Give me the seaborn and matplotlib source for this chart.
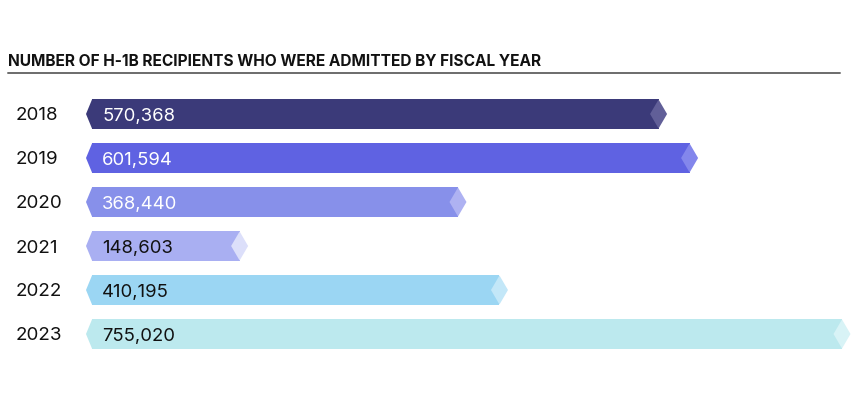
import pandas as pd
import matplotlib
matplotlib.use("Agg")
import matplotlib.pyplot as plt
import seaborn as sns
from matplotlib.patches import Polygon
from matplotlib.lines import Line2D

title = "NUMBER OF H-1B RECIPIENTS WHO WERE ADMITTED BY FISCAL YEAR"
years = ["2018", "2019", "2020", "2021", "2022", "2023"]
recipients = [570368, 601594, 368440, 148603, 410195, 755020]
bar_colors = ["#3b3a79", "#5f62e2", "#8790ea", "#a9aff2", "#9bd6f3", "#bce9ee"]
tip_colors = ["#615f98", "#8386ec", "#aeb2f2", "#dcdffa", "#c3e7f8", "#d8f3f6"]
label_colors = ["white", "white", "white", "#111111", "#111111", "#111111"]

df = pd.DataFrame({"year": years, "recipients": recipients})

sns.set_theme(style="white")
plt.rcParams["font.family"] = ["Inter", "DejaVu Sans"]

W, H = 860, 412
fig = plt.figure(figsize=(W / 100, H / 100), dpi=100)
# axes start at the arrow tip (x=86px); 6 rows of 44px starting at y=92px
ax = fig.add_axes([86 / W, (H - 356) / H, (W - 86) / W, 264 / H])

sns.barplot(data=df, y="year", x="recipients", hue="year", palette=bar_colors,
            legend=False, width=0.66, saturation=1, errorbar=None,
            orient="h", linewidth=0, ax=ax)

# pixel scale: zero at x=92px, the largest value ends at x=842px
ppx = (842 - 92) / max(recipients)
ax.set_xlim(-6 / ppx, (W - 92) / ppx)
ax.set_ylim(5.5, -0.5)

tip = 6 / ppx
hw = 8.5 / ppx
for i, p in enumerate(ax.patches[:len(years)]):
    y0 = p.get_y()
    h = p.get_height()
    v = p.get_width()
    yc = y0 + h / 2
    ax.add_patch(Polygon([(0, y0), (-tip, yc), (0, y0 + h)], closed=True,
                         facecolor=bar_colors[i], lw=0))
    ax.add_patch(Polygon([(v - hw, yc), (v, y0), (v + hw, yc), (v, y0 + h)],
                         closed=True, facecolor=tip_colors[i], lw=0))
    ax.text(10 / ppx, yc, f"{v:,.0f}", va="center_baseline", ha="left",
            fontsize=13.3, color=label_colors[i])

ax.set_xlabel("")
ax.set_ylabel("")
ax.set_xticks([])
ax.tick_params(axis="y", length=0, pad=70 * 72 / 100, labelsize=13.5,
               labelcolor="#111111")
for lab in ax.get_yticklabels():
    lab.set_horizontalalignment("left")
sns.despine(ax=ax, left=True, bottom=True)

t = fig.text(8 / W, 1 - 65.7 / H, title, fontsize=10.3, fontweight="bold",
             va="baseline", ha="left", color="#111111")
# stretch the title to the reference width (~535px)
fig.canvas.draw()
tw = t.get_window_extent().width
t.set_fontsize(10.3 * 535 / tw)
fig.add_artist(Line2D([8 / W, 840 / W], [1 - 72.5 / H] * 2,
                      color="#6b6b6b", lw=1.4))

fig.savefig("out.png", dpi=100)
